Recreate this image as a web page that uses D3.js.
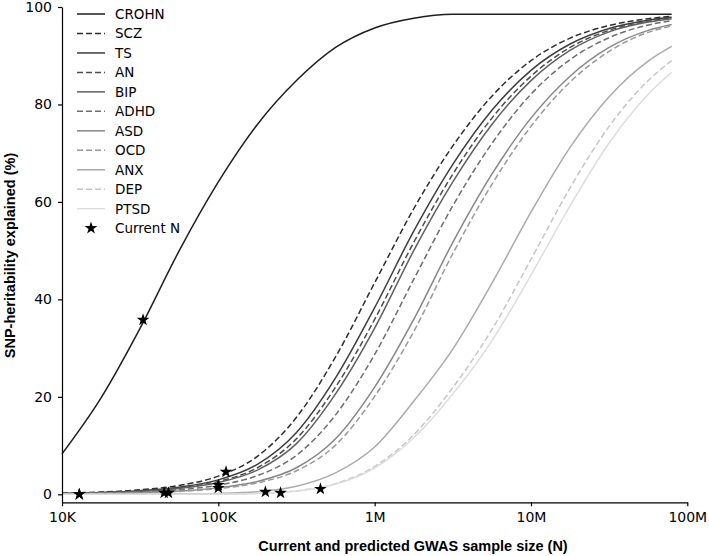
<!DOCTYPE html>
<html>
<head>
<meta charset="utf-8">
<script src="https://cdn.jsdelivr.net/npm/d3@7"></script>
<style>
  html, body { margin: 0; padding: 0; background: #ffffff; }
  svg { display: block; }
</style>
</head>
<body>
<svg id="chart" width="709" height="556"></svg>
<script>
// ---------------- data ----------------
const sampleSizes = [10000, 17783, 31623, 56234, 100000, 177828, 316228, 562341,
  1000000, 1778279, 3162278, 5623413, 10000000, 17782794, 31622777, 56234133, 79432823];

const diseases = ["CROHN", "SCZ", "TS", "AN", "BIP", "ADHD", "ASD", "OCD", "ANX", "DEP", "PTSD"];

const crohn = [8.3, 19.8, 34.1, 50.0, 64.1, 75.9, 84.9, 91.7, 95.7, 97.7, 98.5, 98.5, 98.5, 98.5, 98.5, 98.5, 98.5];
const scz   = [0.24, 0.46, 0.92, 1.83, 3.73, 7.8, 15.8, 28.2, 43.4, 58.6, 71.5, 81.7, 89.0, 93.6, 96.2, 97.6, 98.1];
const ts    = [0.20, 0.37, 0.74, 1.47, 2.96, 6.15, 12.7, 23.9, 38.3, 54.0, 67.7, 78.8, 87.0, 92.4, 95.6, 97.3, 97.9];
const an    = [0.19, 0.33, 0.66, 1.32, 2.63, 5.45, 11.4, 22.0, 35.9, 51.7, 65.7, 77.2, 85.8, 91.7, 95.2, 97.1, 97.8];
const bip   = [0.17, 0.30, 0.61, 1.21, 2.41, 4.97, 10.4, 20.6, 34.1, 50.0, 64.1, 75.9, 84.9, 91.1, 94.9, 96.9, 97.6];
const adhd  = [0.14, 0.25, 0.47, 0.94, 1.89, 3.84, 8.0, 16.3, 28.7, 44.1, 59.2, 72.0, 82.1, 89.2, 93.7, 96.3, 97.2];
const asd   = [0.11, 0.19, 0.33, 0.66, 1.32, 2.63, 5.45, 11.4, 22.0, 35.9, 51.7, 65.7, 77.2, 85.8, 91.7, 95.2, 96.4];
const ocd   = [0.10, 0.17, 0.30, 0.59, 1.18, 2.35, 4.83, 10.1, 20.1, 33.4, 49.4, 63.6, 75.5, 84.6, 90.9, 94.8, 96.1];
const anx   = [0.0, 0.01, 0.02, 0.05, 0.17, 0.53, 1.66, 4.4, 9.7, 19.1, 29.8, 43.3, 57.9, 71.2, 81.6, 88.9, 91.9];
const dep   = [0.0, 0.0, 0.01, 0.02, 0.06, 0.2, 0.70, 2.19, 5.7, 12.2, 21.9, 33.8, 48.2, 62.9, 75.5, 84.9, 89.0];
const ptsd  = [0.0, 0.0, 0.01, 0.02, 0.06, 0.19, 0.67, 2.07, 5.4, 11.6, 20.6, 31.5, 45.0, 59.2, 72.1, 82.1, 86.6];

// current GWAS sample sizes (stars), in disease order
const currentN  = [33000, 112000, 12900, 100000, 48000, 100000, 45000, 12900, 200000, 450000, 250000];
const currentH2 = [35.8, 4.6, 0.0, 1.3, 0.3, 1.9, 0.3, 0.0, 0.5, 1.1, 0.3];

const xTickValues = [1e4, 1e5, 1e6, 1e7, 1e8];
const xTickLabels = ["10K", "100K", "1M", "10M", "100M"];
const yTickValues = [0, 20, 40, 60, 80, 100];

const xTitle = "Current and predicted GWAS sample size (N)";
const yTitle = "SNP-heritability explained (%)";
const starLabel = "Current N";

// ---------------- styles ----------------
const lineColors = ["#1f1f1f", "#2d2d2d", "#3d3d3d", "#4d4d4d", "#606060", "#6e6e6e",
                    "#878787", "#999999", "#ababab", "#c6c6c6", "#dddddd"];
const lineDashed = [false, true, false, true, false, true, false, true, false, true, false];

const seriesValues = [crohn, scz, ts, an, bip, adhd, asd, ocd, anx, dep, ptsd];
const series = diseases.map((name, i) => ({
  name,
  color: lineColors[i],
  dashed: lineDashed[i],
  points: sampleSizes.map((n, j) => ({ n, v: seriesValues[i][j] })),
  star: { n: currentN[i], v: currentH2[i] }
}));

// ---------------- drawing ----------------
const svg = d3.select("#chart");
const W = 709, H = 556;
svg.append("rect").attr("width", W).attr("height", H).attr("fill", "#fff");

const x = d3.scaleLog().domain([1e4, 1e8]).range([62, 687.3]);
const y = d3.scaleLinear().domain([-1.64, 100]).range([502.3, 7]);

const tickFont = "DejaVu Sans, sans-serif";
const titleFont = "'Liberation Sans', Arial, sans-serif";

// curves
const line = d3.line()
  .x(d => x(d.n))
  .y(d => y(d.v))
  .curve(d3.curveMonotoneX);

const curves = svg.append("g").attr("fill", "none");
series.forEach(s => {
  curves.append("path")
    .datum(s.points)
    .attr("d", line)
    .attr("stroke", s.color)
    .attr("stroke-width", 1.5)
    .attr("stroke-dasharray", s.dashed ? "6,3" : null);
});

// axes
const xAxis = d3.axisBottom(x)
  .tickValues(xTickValues)
  .tickFormat((d, i) => xTickLabels[i])
  .tickSize(4)
  .tickSizeOuter(0)
  .tickPadding(5.5);

const gx = svg.append("g").attr("transform", `translate(0,${y(-1.64)})`).call(xAxis);
gx.select(".domain").attr("stroke", "#000").attr("stroke-width", 1.2);
gx.selectAll(".tick line").attr("stroke", "#000").attr("stroke-width", 1.2);
gx.selectAll(".tick text").attr("font-family", tickFont).attr("font-size", 14).attr("fill", "#000");

const yAxis = d3.axisLeft(y)
  .tickValues(yTickValues)
  .tickFormat(d3.format("d"))
  .tickSize(4)
  .tickSizeOuter(0)
  .tickPadding(6);

const gy = svg.append("g").attr("transform", `translate(${x(1e4)},0)`).call(yAxis);
gy.select(".domain").attr("stroke", "#000").attr("stroke-width", 1.2);
gy.selectAll(".tick line").attr("stroke", "#000").attr("stroke-width", 1.2);
gy.selectAll(".tick text").attr("font-family", tickFont).attr("font-size", 14).attr("fill", "#000");

// axis titles
svg.append("text")
  .attr("x", 413).attr("y", 551)
  .attr("text-anchor", "middle")
  .attr("font-family", titleFont)
  .attr("font-weight", "bold")
  .attr("font-size", 14.5)
  .attr("fill", "#000")
  .text(xTitle);

svg.append("text")
  .attr("transform", "translate(15,255.5) rotate(-90)")
  .attr("text-anchor", "middle")
  .attr("font-family", titleFont)
  .attr("font-weight", "bold")
  .attr("font-size", 14.5)
  .attr("fill", "#000")
  .text(yTitle);

// stars
const star = d3.symbol().type(d3.symbolStar).size(50);
svg.append("g").selectAll("path")
  .data(series)
  .join("path")
  .attr("d", star)
  .attr("transform", s => `translate(${x(s.star.n)},${y(s.star.v)})`)
  .attr("fill", "#000");

// legend
const legend = svg.append("g");
const legY0 = 14, legStep = 19.47;
series.forEach((s, i) => {
  const ly = legY0 + i * legStep;
  legend.append("line")
    .attr("x1", 77).attr("x2", 105)
    .attr("y1", ly).attr("y2", ly)
    .attr("stroke", s.color)
    .attr("stroke-width", 1.5)
    .attr("stroke-dasharray", s.dashed ? "6,3" : null);
  legend.append("text")
    .attr("x", 115).attr("y", ly)
    .attr("dy", "0.36em")
    .attr("font-family", tickFont)
    .attr("font-size", 13.5)
    .attr("fill", "#000")
    .text(s.name);
});
const lyStar = legY0 + diseases.length * legStep;
legend.append("path")
  .attr("d", star)
  .attr("transform", `translate(91,${lyStar})`)
  .attr("fill", "#000");
legend.append("text")
  .attr("x", 115).attr("y", lyStar)
  .attr("dy", "0.36em")
  .attr("font-family", tickFont)
  .attr("font-size", 13.5)
  .attr("fill", "#000")
  .text(starLabel);
</script>
</body>
</html>
